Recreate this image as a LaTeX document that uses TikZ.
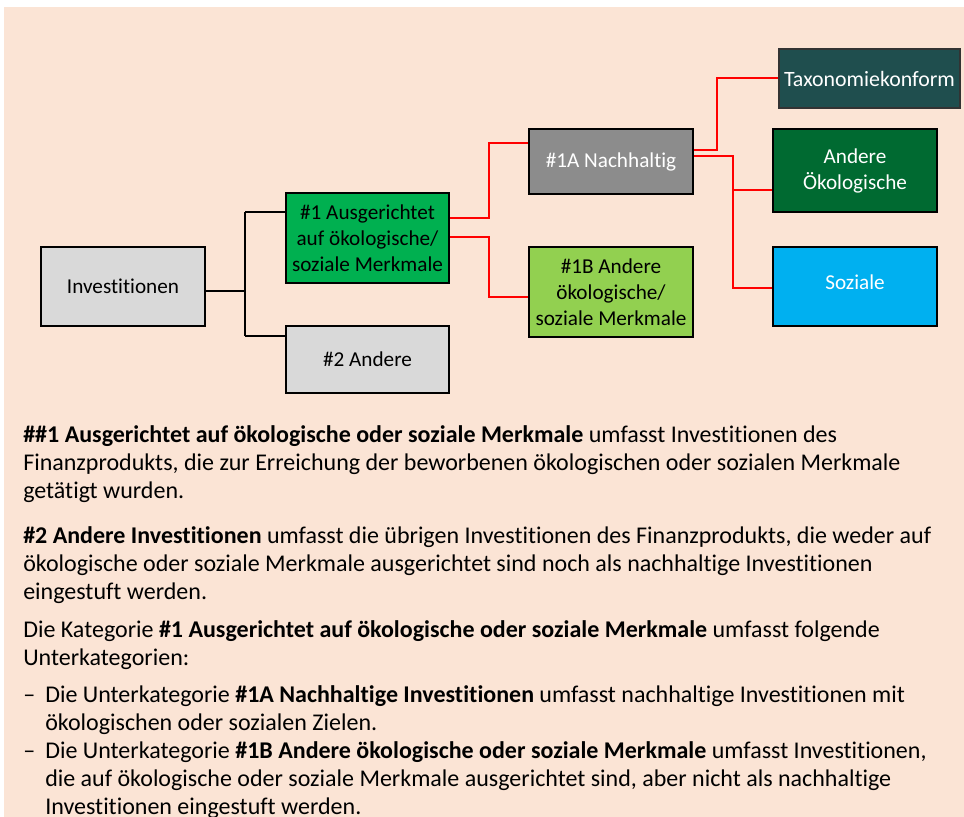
\documentclass[tikz,border=0pt]{standalone}
\usepackage{fontspec}
\setmainfont{Carlito}[Ligatures={NoCommon}]
\definecolor{peach}{HTML}{FBE4D5}
\definecolor{lgray}{HTML}{D9D9D9}
\definecolor{mgray}{HTML}{8C8C8C}
\definecolor{green1}{HTML}{00B050}
\definecolor{green1b}{HTML}{92D050}
\definecolor{teal1}{HTML}{1F4E4E}
\definecolor{dgreen}{HTML}{006A31}
\definecolor{sky}{HTML}{00B0F0}
\definecolor{redline}{HTML}{FF0000}
\tikzset{
  box/.style={draw=black, line width=1.7pt, inner sep=0pt, align=center,
    font=\fontsize{15.9}{19.5}\selectfont},
  blk/.style={draw=black, line width=1.4pt},
  rline/.style={draw=redline, line width=1.5pt},
  para/.style={anchor=base west, inner sep=0pt, align=left,
    font=\fontsize{18}{21}\selectfont}
}
\begin{document}
\begin{tikzpicture}[x=0.75pt,y=-0.75pt]
\useasboundingbox (0,0) rectangle (964,817);
\clip (0,0) rectangle (964,817);
\fill[peach] (4,7) rectangle (964,817);

% boxes
\node[box, fill=lgray, minimum width=123pt, minimum height=59.25pt] (inv) at (123,286.5) {Investitionen};
\node[box, fill=green1, minimum width=122.25pt, minimum height=67.5pt] (n1) at (367.5,238) {\#1 Ausgerichtet\\auf ökologische/\\soziale Merkmale};
\node[box, fill=lgray, minimum width=122.25pt, minimum height=50.25pt] (n2) at (367.5,359.5) {\#2 Andere};
\node[box, fill=mgray, text=white, minimum width=123pt, minimum height=48.75pt] (n1a) at (611,161.5) {\#1A Nachhaltig};
\node[box, fill=green1b, minimum width=123pt, minimum height=67.5pt] (n1b) at (611,292) {\#1B Andere\\ökologische/\\soziale Merkmale};
\node[box, draw=black!80, line width=1.1pt, fill=teal1, text=white, minimum width=135.75pt, minimum height=44.25pt, font=\fontsize{16.4}{19.5}\selectfont] (tax) at (869.5,78.5) {Taxonomiekonform};
\node[box, fill=dgreen, text=white, minimum width=123pt, minimum height=62.25pt] (aoe) at (855,170.5) {Andere\\Ökologische};
\node[box, fill=sky, text=white, minimum width=123pt, minimum height=59.25pt] (soz) at (855,286.5) {\raisebox{6pt}{Soziale}};

% black connectors
\coordinate (j0) at (245,291);
\coordinate (ja) at (245,212);
\coordinate (jb) at (245,336);
\draw[blk] (j0 -| inv.east) -- (j0);
\draw[blk] (ja) -- (jb);
\draw[blk] (ja) -- (ja -| n1.west);
\draw[blk] (jb) -- (jb -| n2.west);

% red connectors
\coordinate (r1) at (489,218);
\coordinate (a1) at (489,143);
\coordinate (r2) at (489,237);
\coordinate (a2) at (489,297);
\draw[rline] (r1 -| n1.east) -- (r1) -- (a1) -- (a1 -| n1a.west);
\draw[rline] (r2 -| n1.east) -- (r2) -- (a2) -- (a2 -| n1b.west);
\coordinate (r3) at (717,150);
\coordinate (a3) at (717,78.5);
\draw[rline] (r3 -| n1a.east) -- (r3) -- (a3) -- (a3 -| tax.west);
\coordinate (r4) at (733,156);
\coordinate (a4) at (733,190);
\coordinate (a5) at (733,288);
\draw[rline] (r4 -| n1a.east) -- (r4) -- (a5) -- (a5 -| soz.west);
\draw[rline] (a4) -- (a4 -| aoe.west);

% text (base anchor = baseline of the last line)
\node[para] (p1) at (23,498) {\textbf{\#\#1 Ausgerichtet auf ökologische oder soziale Merkmale} umfasst Investitionen des\\
Finanzprodukts, die zur Erreichung der beworbenen ökologischen oder sozialen Merkmale\\
getätigt wurden.};
\node[para] (p2) at (23,599) {\textbf{\#2 Andere Investitionen} umfasst die übrigen Investitionen des Finanzprodukts, die weder auf\\
ökologische oder soziale Merkmale ausgerichtet sind noch als nachhaltige Investitionen\\
eingestuft werden.};
\node[para] (p3) at (23,665) {Die Kategorie \textbf{\#1 Ausgerichtet auf ökologische oder soziale Merkmale} umfasst folgende\\
Unterkategorien:};
\node[para] (d1) at (23,702) {–};
\node[para] (b1) at (45,730) {Die Unterkategorie \textbf{\#1A Nachhaltige Investitionen} umfasst nachhaltige Investitionen mit\\
ökologischen oder sozialen Zielen.};
\node[para] (d2) at (23,758) {–};
\node[para] (b2) at (45,814) {Die Unterkategorie \textbf{\#1B Andere ökologische oder soziale Merkmale} umfasst Investitionen,\\
die auf ökologische oder soziale Merkmale ausgerichtet sind, aber nicht als nachhaltige\\
Investitionen eingestuft werden.};
\end{tikzpicture}
\end{document}
